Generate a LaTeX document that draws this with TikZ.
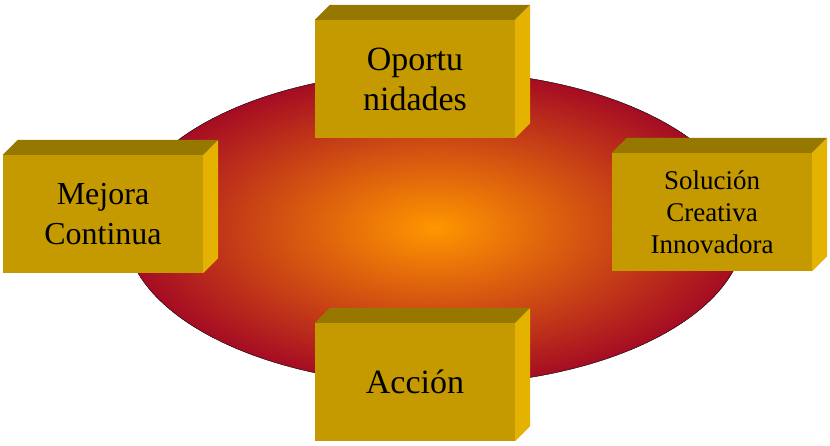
\documentclass[tikz,border=0pt]{standalone}
\usepackage{fontspec}
\setmainfont{Liberation Serif}
\usetikzlibrary{positioning,shadings}
\definecolor{frontgold}{RGB}{196,154,0}
\definecolor{topgold}{RGB}{150,120,0}
\definecolor{sidegold}{RGB}{228,178,0}
\definecolor{ringred}{RGB}{165,12,35}
\definecolor{coreorange}{RGB}{255,150,0}
\tikzset{
  block/.style={rectangle, fill=frontgold, minimum width=200pt, minimum height=118pt, inner sep=0pt, align=center, text width=190pt},
}
% cuboid faces behind a front node
\newcommand{\cubefaces}[1]{
  \fill[topgold] (#1.north west) -- ++(15,15) -- ([xshift=15pt,yshift=15pt]#1.north east) -- (#1.north east) -- cycle;
  \fill[sidegold] (#1.north east) -- ++(15,15) -- ([xshift=15pt,yshift=15pt]#1.south east) -- (#1.south east) -- cycle;
}
\begin{document}
\begin{tikzpicture}[x=1pt,y=1pt]
\useasboundingbox (0,0) rectangle (830,-445);
\shade[inner color=coreorange, outer color=ringred, draw=black, thin] (435,-228) ellipse [x radius=310, y radius=157];

\node[block, font=\fontsize{34}{40}\selectfont] (oport) at (415,-79) {Oportu\\nidades};
\node[block, font=\fontsize{32}{40}\selectfont] (mejora) at (103,-214) {Mejora\\Continua};
\node[block, font=\fontsize{27}{32}\selectfont] (solucion) at (712,-212) {Solución\\Creativa\\Innovadora};
\node[block, font=\fontsize{34}{40}\selectfont] (accion) at (415,-382) {Acción};

\cubefaces{oport}
\cubefaces{mejora}
\cubefaces{solucion}
\cubefaces{accion}
\end{tikzpicture}
\end{document}
